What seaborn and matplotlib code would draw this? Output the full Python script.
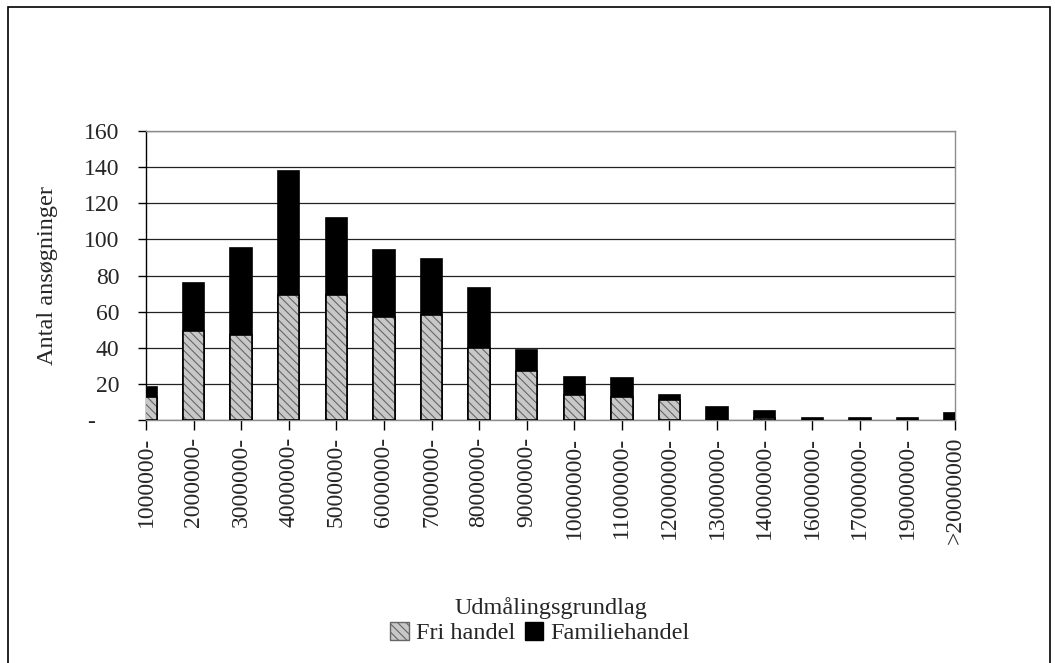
import numpy as np
import pandas as pd
import matplotlib
matplotlib.use("Agg")
import matplotlib.pyplot as plt
import seaborn as sns
from matplotlib.patches import Patch, Rectangle

# data
categories = ["1000000-", "2000000-", "3000000-", "4000000-", "5000000-", "6000000-",
              "7000000-", "8000000-", "9000000-", "10000000-", "11000000-", "12000000-",
              "13000000-", "14000000-", "16000000-", "17000000-", "19000000-", ">20000000"]
fri_handel = [13, 49, 47, 69, 69, 57, 58, 40, 27, 14, 13, 11, 0, 1, 0, 0, 0, 0]
familiehandel = [5, 27, 48, 69, 43, 37, 31, 33, 12, 10, 10, 3, 7, 4, 1, 1, 1, 4]
yticks = [0, 20, 40, 60, 80, 100, 120, 140, 160]
ytick_labels = ["-    ", "20", "40", "60", "80", "100", "120", "140", "160"]

df = pd.DataFrame({"kategori": categories,
                   "fri": fri_handel,
                   "familie": familiehandel})
df["total"] = df["fri"] + df["familie"]

sns.set_style("white")
plt.rcParams["font.family"] = ["Liberation Serif", "DejaVu Serif"]
plt.rcParams["hatch.linewidth"] = 0.8

fig = plt.figure(figsize=(10.55, 6.63), dpi=100)
ax = fig.add_axes([146 / 1055, 1 - 420 / 663, 809 / 1055, 289 / 663])

# stacked bars: total (black) underneath, Fri handel on top
sns.barplot(data=df, x="kategori", y="total", color="black", width=0.45,
            saturation=1, edgecolor="black", linewidth=1.2, ax=ax, zorder=3)
n_total = len(ax.patches)
sns.barplot(data=df, x="kategori", y="fri", color="#c8c8c8", width=0.45,
            saturation=1, edgecolor="#666666", linewidth=0, ax=ax, zorder=4)
for p in ax.patches[n_total:]:
    p.set_hatch("\\\\\\\\")
sns.barplot(data=df, x="kategori", y="fri", fill=False, width=0.45,
            edgecolor="black", linewidth=1.2, ax=ax, zorder=5)

ax.set_xlim(0, len(categories) - 1)
ax.set_ylim(0, 160)
ax.set_yticks(yticks)
ax.set_yticklabels(ytick_labels)
ax.yaxis.grid(True, color="#222222", linewidth=0.9)
ax.set_axisbelow(True)

for s in ["top", "right", "bottom"]:
    ax.spines[s].set_color("#8c8c8c")
    ax.spines[s].set_linewidth(1.0)
ax.spines["left"].set_color("black")
ax.spines["left"].set_linewidth(1.0)

ax.tick_params(axis="x", rotation=90, labelsize=17, length=7, width=1,
               color="black", direction="out", bottom=True, pad=5)
ax.tick_params(axis="y", labelsize=17, length=6, width=1, color="black",
               direction="out", left=True, pad=13)

ax.set_xlabel("Udmålingsgrundlag", fontsize=17.5)
ax.xaxis.set_label_coords(0.5, -0.612)
ax.set_ylabel("Antal ansøgninger", fontsize=17.5)
ax.yaxis.set_label_coords(-0.109, 0.5)

handles = [Patch(facecolor="#c8c8c8", edgecolor="#666666", hatch="\\\\\\\\", label="Fri handel"),
           Patch(facecolor="black", edgecolor="black", label="Familiehandel")]
fig.legend(handles=handles, loc="center", bbox_to_anchor=(540 / 1055, 1 - 633 / 663),
           ncol=2, frameon=False, fontsize=17.5, handlelength=0.75, handleheight=0.75,
           handletextpad=0.3, columnspacing=0.4)

# outer frame of the scanned figure
fig.patches.append(Rectangle((8 / 1055, -0.01), 1042 / 1055, 1 - 7 / 663 + 0.01,
                             transform=fig.transFigure, fill=False,
                             edgecolor="black", linewidth=1.2))

fig.savefig("out.png", dpi=100)
